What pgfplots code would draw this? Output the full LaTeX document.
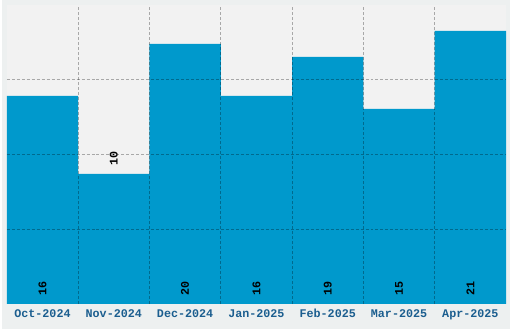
\documentclass[border=0pt]{standalone}
\usepackage{pgfplots}
\pgfplotsset{compat=1.18}
\usepackage{fontspec}
\setmainfont{Liberation Sans}
\newfontfamily\monofont{Liberation Mono}
\definecolor{barblue}{HTML}{0099CC}
\definecolor{plotbg}{HTML}{F2F2F2}
\definecolor{outerbg}{HTML}{EDF0F0}
\definecolor{ticktext}{HTML}{1B5E8F}
\begin{document}
\begin{tikzpicture}
\fill[outerbg] (-5bp,-25bp) rectangle (505bp,305bp);
\begin{axis}[
  at={(0,0)}, anchor=south west,
  scale only axis, width=501bp, height=300bp,
  xmin=-0.5, xmax=6.5, ymin=0, ymax=23,
  axis background/.style={fill=plotbg},
  axis line style={draw=none},
  axis on top,
  xtick={0,1,2,3,4,5,6},
  xticklabels={Oct-2024,Nov-2024,Dec-2024,Jan-2025,Feb-2025,Mar-2025,Apr-2025},
  minor xtick={0.5,1.5,2.5,3.5,4.5,5.5},
  ytick={5.75,11.5,17.25},
  yticklabels={},
  major tick length=0pt, minor tick length=0pt,
  xmajorgrids=false, xminorgrids=true, ymajorgrids=true,
  grid style={black, opacity=0.3, line width=1.1bp, dash pattern=on 3bp off 2bp},
  minor grid style={black, opacity=0.3, line width=1.1bp, dash pattern=on 3bp off 2bp},
  xticklabel style={font=\monofont\bfseries\fontsize{11.8}{12}\selectfont, text=ticktext, yshift=-2bp},
  clip=false,
]
\addplot[ybar, bar width=1, bar shift=0pt, fill=barblue, draw=none]
  coordinates {(0,16) (1,10) (2,20) (3,16) (4,19) (5,15) (6,21)};
\addplot[only marks, mark=none, point meta=explicit symbolic,
  nodes near coords,
  nodes near coords style={rotate=90, anchor=west, xshift=5bp, text=black,
    font=\monofont\bfseries\fontsize{11.8}{12}\selectfont}]
  coordinates {(0,0)[16] (1,10)[10] (2,0)[20] (3,0)[16] (4,0)[19] (5,0)[15] (6,0)[21]};
\end{axis}
\end{tikzpicture}
\end{document}
